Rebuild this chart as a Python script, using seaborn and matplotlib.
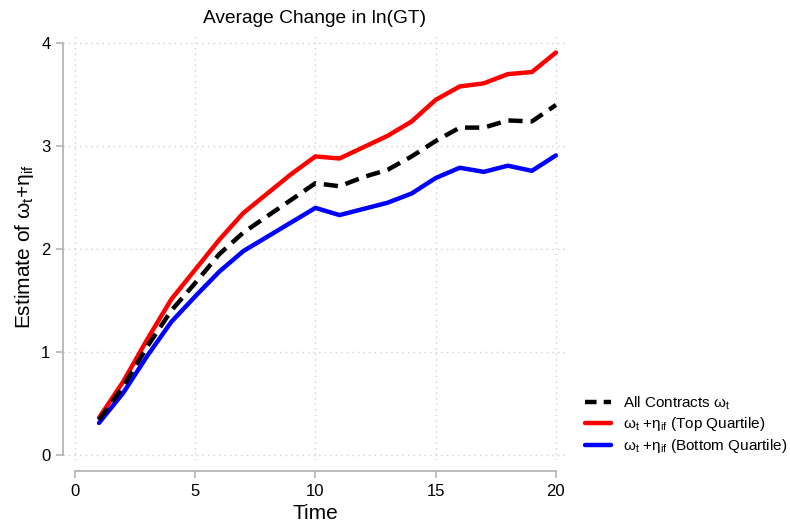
import numpy as np
import pandas as pd
import matplotlib
matplotlib.use('Agg')
import matplotlib.pyplot as plt
import seaborn as sns
from matplotlib.lines import Line2D

# Data
time = list(range(1, 21))
all_contracts = [0.34, 0.66, 1.05, 1.40, 1.67, 1.95, 2.16, 2.32, 2.48, 2.64,
                 2.61, 2.70, 2.77, 2.90, 3.05, 3.18, 3.18, 3.25, 3.24, 3.40]
top_quartile = [0.36, 0.71, 1.12, 1.51, 1.80, 2.09, 2.35, 2.54, 2.73, 2.90,
                2.88, 2.99, 3.10, 3.24, 3.45, 3.58, 3.61, 3.70, 3.72, 3.91]
bottom_quartile = [0.31, 0.60, 0.96, 1.29, 1.54, 1.78, 1.98, 2.12, 2.26, 2.40,
                   2.33, 2.39, 2.45, 2.54, 2.69, 2.79, 2.75, 2.81, 2.76, 2.91]

labels = [r'All Contracts $\omega_t$',
          r'$\omega_t$ +$\eta_{if}$ (Top Quartile)',
          r'$\omega_t$ +$\eta_{if}$ (Bottom Quartile)']

df = pd.DataFrame({
    'time': time * 3,
    'value': all_contracts + top_quartile + bottom_quartile,
    'series': ['all'] * 20 + ['top'] * 20 + ['bottom'] * 20,
})

sns.set_style('white')
plt.rcParams['font.family'] = ['Liberation Sans', 'DejaVu Sans']
plt.rcParams['mathtext.fontset'] = 'dejavusans'
plt.rcParams['mathtext.default'] = 'regular'
plt.rcParams['text.color'] = 'black'
plt.rcParams['axes.labelcolor'] = 'black'
plt.rcParams['xtick.color'] = 'black'
plt.rcParams['ytick.color'] = 'black'

fig = plt.figure(figsize=(7.9, 5.23), dpi=100)
ax = fig.add_axes([0.0797, 0.1205, 0.638, 0.8165])

grey = '#b4b4b4'
palette = {'all': 'black', 'top': '#ff0000', 'bottom': '#0000ff'}

sns.lineplot(data=df[df.series == 'top'], x='time', y='value', color=palette['top'],
             linewidth=3.2, ax=ax, zorder=3)
sns.lineplot(data=df[df.series == 'bottom'], x='time', y='value', color=palette['bottom'],
             linewidth=3.2, ax=ax, zorder=3)
sns.lineplot(data=df[df.series == 'all'], x='time', y='value', color=palette['all'],
             linewidth=3.2, ax=ax, zorder=4)
ax.lines[-1].set_dashes((3.2, 1.8))

ax.set_xlim(-0.5, 20.46)
ax.set_ylim(-0.05, 4.10)
ax.set_xticks([0, 5, 10, 15, 20])
ax.set_yticks([0, 1, 2, 3, 4])

ax.grid(True, color='#d0d0d0', linestyle=(0, (1, 3)), linewidth=1)
for s in ['top', 'right']:
    ax.spines[s].set_visible(False)
for s in ['left', 'bottom']:
    ax.spines[s].set_color(grey)
    ax.spines[s].set_linewidth(1.3)
ax.spines['left'].set_bounds(0, 4)
ax.spines['bottom'].set_bounds(0, 20)
ax.spines['bottom'].set_position(('outward', 8))

ax.tick_params(axis='both', direction='out', length=5, width=1.2, color=grey,
               labelsize=12, pad=4, left=True, bottom=True, labelcolor='black')

ax.set_title('Average Change in ln(GT)', fontsize=13.8, pad=7)
ax.set_xlabel('Time', fontsize=15)
ax.set_ylabel(r'Estimate of $\omega_t$+$\eta_{if}$', fontsize=15)

handles = [Line2D([0], [0], color='black', lw=3.2, dashes=(2.6, 1.6)),
           Line2D([0], [0], color='#ff0000', lw=3.2),
           Line2D([0], [0], color='#0000ff', lw=3.2)]
fig.legend(handles, labels, loc='upper left', bbox_to_anchor=(0.733, 0.258),
           frameon=False, fontsize=11, handlelength=1.7, labelspacing=0.25,
           handletextpad=0.8, borderaxespad=0)

fig.savefig('out.png', dpi=100)
